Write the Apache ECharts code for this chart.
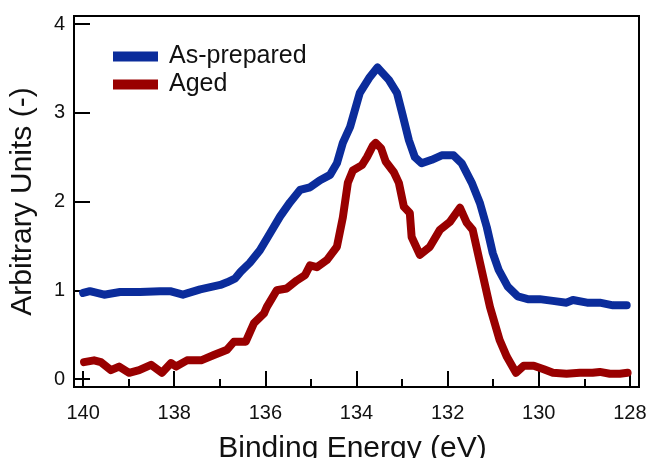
<!DOCTYPE html>
<html>
<head>
<meta charset="utf-8">
<script src="https://cdn.jsdelivr.net/npm/echarts@6/dist/echarts.min.js"></script>
<style>
html,body{margin:0;padding:0;background:#fff;}
#chart{width:652px;height:458px;}
</style>
</head>
<body>
<div id="chart"></div>
<script>
// ---- data ----
const seriesNames = ['As-prepared', 'Aged'];
const asPreparedEnergy = [140.00,139.85,139.54,139.19,138.75,138.31,138.09,137.81,137.43,136.99,136.84,136.67,136.54,136.34,136.12,135.90,135.68,135.46,135.24,135.02,134.80,134.58,134.43,134.30,134.14,133.93,133.71,133.54,133.51,133.29,133.11,133.00,132.85,132.72,132.57,132.35,132.13,131.87,131.69,131.47,131.29,131.14,131.01,130.88,130.68,130.46,130.24,129.98,129.69,129.39,129.25,128.94,128.66,128.37,128.07];
const asPreparedIntensity = [0.97,0.99,0.95,0.98,0.98,0.99,0.99,0.95,1.01,1.06,1.09,1.13,1.21,1.31,1.45,1.64,1.83,1.99,2.13,2.16,2.24,2.30,2.43,2.66,2.84,3.22,3.40,3.51,3.51,3.37,3.22,3.00,2.69,2.50,2.43,2.47,2.52,2.52,2.43,2.21,1.98,1.71,1.42,1.23,1.04,0.93,0.90,0.90,0.88,0.86,0.89,0.86,0.86,0.83,0.83];
const agedEnergy = [139.98,139.76,139.61,139.39,139.21,138.99,138.77,138.51,138.27,138.07,137.96,137.72,137.41,137.13,136.84,136.69,136.43,136.25,136.03,135.97,135.75,135.53,135.31,135.13,135.02,134.87,134.65,134.43,134.30,134.19,134.08,133.88,133.77,133.64,133.58,133.46,133.36,133.18,133.07,132.96,132.83,132.79,132.61,132.39,132.17,131.95,131.73,131.58,131.45,131.29,131.07,130.86,130.70,130.50,130.33,130.11,129.89,129.69,129.39,129.10,128.82,128.66,128.44,128.22,128.05];
const agedIntensity = [0.19,0.21,0.19,0.10,0.14,0.07,0.10,0.16,0.07,0.18,0.14,0.21,0.21,0.27,0.33,0.42,0.42,0.63,0.74,0.81,1.00,1.02,1.11,1.17,1.28,1.26,1.34,1.49,1.82,2.21,2.35,2.41,2.50,2.63,2.66,2.60,2.45,2.33,2.21,1.94,1.87,1.60,1.40,1.49,1.68,1.77,1.93,1.76,1.68,1.31,0.81,0.44,0.25,0.07,0.15,0.15,0.11,0.07,0.06,0.07,0.07,0.08,0.06,0.06,0.07];
const xMajorTicks = [128,130,132,134,136,138,140];
const xMinorTicks = [129,131,133,135,137,139];
const yTicks = [0,1,2,3,4];

// ---- chart ----
const pair = (xs, ys) => xs.map((x, i) => [x, ys[i]]);
const chart = echarts.init(document.getElementById('chart'));
const FONT = 'Liberation Sans, Arial, sans-serif';
const BLUE = '#0b2c9b', RED = '#990000';
const xBase = {
  type: 'value', min: 127.8, max: 140.2, inverse: true, gridIndex: 0,
  splitLine: {show: false}
};
chart.setOption({
  animation: false,
  backgroundColor: '#fff',
  grid: {left: 74, right: 13, top: 16, bottom: 71, show: true, borderColor: '#000', borderWidth: 2, containLabel: false, outerBoundsMode: 'none'},
  legend: {
    left: 108, top: 39, orient: 'vertical', itemGap: 3,
    itemWidth: 45, itemHeight: 10, icon: 'rect',
    data: seriesNames,
    textStyle: {fontFamily: FONT, fontSize: 25, color: '#111', lineHeight: 24, padding: [0,0,0,6]}
  },
  xAxis: [
    Object.assign({}, xBase, {
      position: 'bottom',
      name: 'Binding Energy (eV)', nameLocation: 'middle', nameGap: 47,
      nameTextStyle: {fontFamily: FONT, fontSize: 30, color: '#111', padding: [0, 8, 0, 0]},
      axisLine: {show: true, onZero: false, lineStyle: {color: '#000', width: 2}},
      axisTick: {show: true, inside: true, length: 16, customValues: xMajorTicks, lineStyle: {color: '#000', width: 2}},
      axisLabel: {show: true, customValues: xMajorTicks, margin: 16, fontFamily: FONT, fontSize: 20, color: '#111'}
    }),
    Object.assign({}, xBase, {
      position: 'bottom',
      axisLine: {show: false, onZero: false},
      axisTick: {show: true, inside: true, length: 8, customValues: xMinorTicks, lineStyle: {color: '#000', width: 2}},
      axisLabel: {show: false}
    })
  ],
  yAxis: {
    type: 'value', min: -0.09, max: 4.09,
    name: 'Arbitrary Units (-)', nameLocation: 'middle', nameGap: 36,
    nameTextStyle: {fontFamily: FONT, fontSize: 30, color: '#111'},
    splitLine: {show: false},
    axisLine: {show: true, onZero: false, lineStyle: {color: '#000', width: 2}},
    axisTick: {show: true, inside: true, length: 16, customValues: yTicks, lineStyle: {color: '#000', width: 2}},
    axisLabel: {show: true, customValues: yTicks, margin: 9, fontFamily: FONT, fontSize: 20, color: '#111'}
  },
  series: [
    {
      name: seriesNames[0], type: 'line', xAxisIndex: 0, showSymbol: false, symbol: 'none',
      data: pair(asPreparedEnergy, asPreparedIntensity),
      itemStyle: {color: BLUE},
      lineStyle: {color: BLUE, width: 8, join: 'round', cap: 'round'}
    },
    {
      name: seriesNames[1], type: 'line', xAxisIndex: 0, showSymbol: false, symbol: 'none',
      data: pair(agedEnergy, agedIntensity),
      itemStyle: {color: RED},
      lineStyle: {color: RED, width: 8, join: 'round', cap: 'round'}
    }
  ]
});
</script>
</body>
</html>
